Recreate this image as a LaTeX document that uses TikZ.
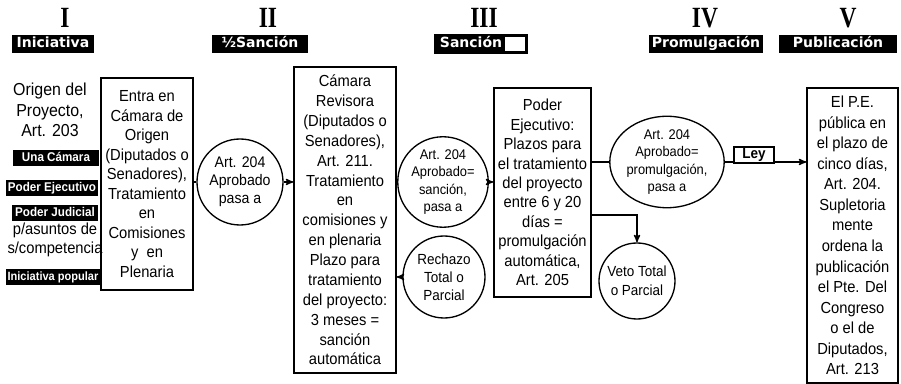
\documentclass[tikz,border=0pt]{standalone}
\usepackage{fontspec}
\setmainfont{Liberation Sans}[FakeStretch=0.92]
\newfontfamily\tagfont{DejaVu Sans}
\newfontfamily\romfont{Liberation Serif}[FakeStretch=0.8]
\usetikzlibrary{arrows,positioning,fit,shapes.geometric}
\tikzset{
    box/.style={rectangle, draw, line width=1pt, align=center, inner sep=1pt, font=\fontsize{12}{14.6}\selectfont},
    circ/.style={circle, draw, line width=1pt, align=center, inner sep=0},
    tag/.style={rectangle, fill=black, text=white, inner xsep=2pt, inner ysep=1pt, text height=8.5pt, text depth=2.5pt, font=\tagfont\bfseries\fontsize{10.5}{12}\selectfont},
    small/.style={rectangle, fill=black, text=white, inner xsep=1.5pt, inner ysep=1pt, text height=7.5pt, text depth=2pt, font=\bfseries\fontsize{9.5}{10}\selectfont},
    rom/.style={font=\romfont\bfseries\fontsize{22}{22}\selectfont, inner sep=0},
    line/.style={-, line width=1pt},
    post/.style={->, line width=1pt, >=stealth', shorten >=0pt},
  }

\begin{document}
\begin{tikzpicture}[x=0.75pt, y=-0.75pt]
  \useasboundingbox (0,0) rectangle (901,384);

  % stages
  \node (r1) [rom] at (65,18) {I};
  \node (r2) [rom] at (268,18) {II};
  \node (r3) [rom] at (484,18) {III};
  \node (r4) [rom] at (705,18) {IV};
  \node (r5) [rom] at (848,18) {V};

  \node (t1) [tag, minimum width=62pt] at (53,44) {Iniciativa};
  \node (t2) [tag, minimum width=72pt] at (260,44) {½Sanción};
  \node (t3f) [draw, line width=2pt, minimum width=68pt, minimum height=13pt, inner sep=0] at (481,44) {};
  \node (t3) [tag, right=2pt of t3f.west] {Sanción};
  \node (t4) [tag, minimum width=84pt] at (706,44) {Promulgación};
  \node (t5) [tag, minimum width=89pt] at (838,44) {Publicación};

  % origen
  \node (orig) [align=center, inner sep=0, font=\fontsize{13}{15.5}\selectfont] at (50,110) {Origen del\\Proyecto,\\Art. 203};
  \node (una) [small, minimum width=64pt] at (56,158) {Una Cámara};
  \node (pej) [small, minimum width=67pt] at (52,188) {Poder Ejecutivo};
  \node (pju) [small, minimum width=64pt] at (55,213) {Poder Judicial};
  \node (comp) [align=center, inner sep=0, below=1pt of pju, font=\fontsize{12}{14.2}\selectfont] {p/asuntos de\\s/competencia};
  \node (pop) [small, inner xsep=1pt, font=\bfseries\fontsize{9}{10}\selectfont] at (53,277) {Iniciativa popular};

  % boxes
  \node (b1) [box, minimum width=69pt, minimum height=159pt] at (147,184)
      {Entra en\\Cámara de\\Origen\\(Diputados o\\Senadores),\\Tratamiento\\en\\Comisiones\\y\ \ en\\Plenaria};
  \node (b2) [box, minimum width=76.5pt, minimum height=229.5pt, font=\fontsize{12}{14.9}\selectfont] at (345,220)
      {Cámara\\Revisora\\(Diputados o\\Senadores),\\Art. 211.\\Tratamiento\\en\\comisiones y\\en plenaria\\Plazo para\\tratamiento\\del proyecto:\\3 meses =\\sanción\\automática};
  \node (b3) [box, minimum width=72.75pt, minimum height=156.75pt] at (542.5,192.5)
      {Poder\\Ejecutivo:\\Plazos para\\el tratamiento\\del proyecto\\entre 6 y 20\\días =\\promulgación\\automática,\\Art. 205};
  \node (b5) [box, minimum width=68.25pt, minimum height=221.25pt, font=\fontsize{12}{15.4}\selectfont] at (852.5,235.5)
      {El P.E.\\pública en\\el plazo de\\cinco días,\\Art. 204.\\Supletoria\\mente\\ordena la\\publicación\\el Pte. Del\\Congreso\\o el de\\Diputados,\\Art. 213};

  % circles
  \node (c1) [circ, minimum size=64.5pt, font=\fontsize{11.5}{13.5}\selectfont] at (240,182) {Art. 204\\Aprobado\\pasa a};
  \node (c2) [circ, minimum size=62pt, font=\fontsize{10.5}{13}\selectfont] at (443,182) {Art. 204\\Aprobado=\\sanción,\\pasa a};
  \node (rej) [circ, minimum size=61.5pt, font=\fontsize{11}{13.5}\selectfont] at (444,277) {Rechazo\\Total o\\Parcial};
  \node (c3) [ellipse, draw, line width=1pt, align=center, inner sep=0, minimum width=72pt, minimum height=67pt, font=\fontsize{10.5}{13}\selectfont] at (667,162) {Art. 204\\Aprobado=\\promulgación,\\pasa a};
  \node (veto) [circ, minimum size=57pt, font=\fontsize{11}{14}\selectfont] at (637,281) {Veto Total\\o Parcial};
  \node (ley) [draw, line width=2pt, minimum width=30pt, minimum height=12pt, inner sep=0, font=\bfseries\fontsize{11}{12}\selectfont] at (754,155) {Ley};

  \coordinate (vk) at (632,215);

  \draw (b1.east |- c1.west) edge [line] (c1.west)
        (c1.east) edge [post] (c1.east -| b2.west)
        (b2.east |- c2.west) edge [line] (c2.west)
        (c2.east) edge [post] (c2.east -| b3.west)
        (rej.west) edge [post] (rej.west -| b2.east)
        (b3.east |- c3.west) edge [line] (c3.west)
        (c3.east) edge [line] (c3.east -| ley.west)
        (ley.east |- c3.east) edge [post] (c3.east -| b5.west);
  \draw [post] (b3.east |- vk) -| (veto.north);
\end{tikzpicture}
\end{document}
